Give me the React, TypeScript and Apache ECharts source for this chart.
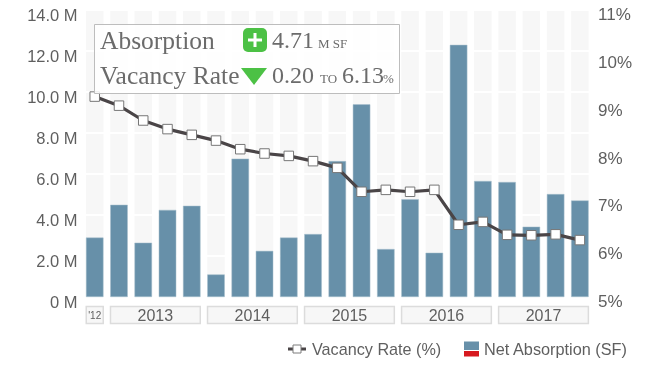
import React, { useEffect, useRef } from "react";
import * as echarts from "echarts";

const categories = ["Q4 12","Q1 13","Q2 13","Q3 13","Q4 13","Q1 14","Q2 14","Q3 14","Q4 14","Q1 15","Q2 15","Q3 15","Q4 15","Q1 16","Q2 16","Q3 16","Q4 16","Q1 17","Q2 17","Q3 17","Q4 17"];
const absorption = [2.9,4.5,2.65,4.25,4.45,1.1,6.75,2.25,2.9,3.07,6.63,9.4,2.34,4.77,2.16,12.3,5.66,5.61,3.43,5.02,4.71];
const vacancy = [9.19,9.0,8.69,8.51,8.39,8.27,8.09,8.0,7.95,7.84,7.7,7.2,7.24,7.2,7.24,6.51,6.57,6.3,6.29,6.31,6.19];
const leftTicks = ["0 M","2.0 M","4.0 M","6.0 M","8.0 M","10.0 M","12.0 M","14.0 M"];
const yearSpans: [number, number, string][] = [[0,0,"'12"],[1,4,"2013"],[5,8,"2014"],[9,12,"2015"],[13,16,"2016"],[17,20,"2017"]];
const backdrop = categories.map(() => 14);

const SANS = "'Liberation Sans', Arial, sans-serif";
const SERIF = "'Liberation Serif', serif";
const TXT = "#5f5f5f";
const SERIF_TXT = "#6b6b6b";

export default function App() {
  const ref = useRef<HTMLDivElement>(null);
  useEffect(() => {
    const chart = echarts.init(ref.current!, null, { renderer: "svg" });
    chart.setOption({
      animation: false,
      grid: { left: 82.6, right: 58, top: 10, bottom: 73, containLabel: false },
      xAxis: { type: "category", data: categories, axisLine: { show: false }, axisTick: { show: false }, axisLabel: { show: false } },
      yAxis: [
        {
          type: "value", min: 0, max: 14, interval: 2, z: 2,
          axisLine: { show: false }, axisTick: { show: false },
          splitLine: { show: true, lineStyle: { color: "#ffffff", width: 2 } },
          axisLabel: {
            margin: 5, fontFamily: SANS, fontSize: 16.5, color: TXT, verticalAlign: "top", padding: [-4, 0, 0, 0],
            formatter: (v: number) => leftTicks[v / 2],
          },
        },
        {
          type: "value", min: 5, max: 11, interval: 1, position: "right",
          axisLine: { show: false }, axisTick: { show: false }, splitLine: { show: false },
          axisLabel: {
            margin: 6, fontFamily: SANS, fontSize: 17, color: TXT, verticalAlign: "top", padding: [-4, 0, 0, 0],
            formatter: (v: number) => v + "%",
          },
        },
      ],
      series: [
        { type: "bar", data: backdrop, barWidth: 17.5, barGap: "-100%", z: 1, silent: true, itemStyle: { color: "#f7f7f7" } },
        { type: "bar", data: absorption, barWidth: 17.5, z: 3, itemStyle: { color: "#6790a9", borderColor: "#a9c0cf", borderWidth: 0.5 } },
        {
          type: "line", yAxisIndex: 1, data: vacancy, z: 4, symbol: "rect", symbolSize: 9.5,
          lineStyle: { color: "#4a4547", width: 3.2 },
          itemStyle: { color: "#ffffff", borderColor: "#767676", borderWidth: 1 },
        },
        {
          type: "custom", z: 2, silent: true, clip: false, data: yearSpans.map((s) => [s[0], s[1]]),
          renderItem: (params: any, api: any) => {
            const span = yearSpans[params.dataIndex];
            const a = api.coord([span[0], 0]);
            const b = api.coord([span[1], 0]);
            const x0 = a[0] - 8.5, x1 = b[0] + 8.5, y = a[1] + 9.5;
            return {
              type: "group",
              children: [
                { type: "rect", shape: { x: x0, y, width: x1 - x0, height: 17 }, style: { fill: "#f7f7f7", stroke: "#dcdcdc", lineWidth: 1.5 } },
                { type: "text", style: { x: (x0 + x1) / 2, y: y + 9, text: span[2], align: "center", verticalAlign: "middle", fontFamily: SANS, fontSize: span[2].length < 4 ? 10 : 16, fill: TXT } },
              ],
            };
          },
        },
      ],
      graphic: [
        { type: "rect", z: 10, shape: { x: 94.5, y: 24.5, width: 305, height: 69 }, style: { fill: "rgba(255,255,255,0.85)", stroke: "#bdbdbd", lineWidth: 1 } },
        { type: "text", z: 11, x: 100, y: 40, style: { text: "Absorption", fontFamily: SERIF, fontSize: 25.5, fill: SERIF_TXT, verticalAlign: "middle" } },
        { type: "text", z: 11, x: 100, y: 75, style: { text: "Vacancy Rate", fontFamily: SERIF, fontSize: 25.5, fill: SERIF_TXT, verticalAlign: "middle" } },
        { type: "rect", z: 11, shape: { x: 243, y: 28, width: 24, height: 24, r: 5 }, style: { fill: "#4cc145" } },
        { type: "rect", z: 12, shape: { x: 248, y: 38.5, width: 14, height: 3 }, style: { fill: "#fff" } },
        { type: "rect", z: 12, shape: { x: 253.5, y: 33, width: 3, height: 14 }, style: { fill: "#fff" } },
        { type: "polygon", z: 11, shape: { points: [[241, 68], [267, 68], [254, 85]] }, style: { fill: "#4cc145" } },
        { type: "text", z: 11, x: 272, y: 40, style: { text: "4.71", fontFamily: SERIF, fontSize: 24, fill: SERIF_TXT, verticalAlign: "middle" } },
        { type: "text", z: 11, x: 318, y: 43, style: { text: "M SF", fontFamily: SERIF, fontSize: 13, fill: SERIF_TXT, verticalAlign: "middle" } },
        { type: "text", z: 11, x: 272, y: 75, style: { text: "0.20", fontFamily: SERIF, fontSize: 24, fill: SERIF_TXT, verticalAlign: "middle" } },
        { type: "text", z: 11, x: 320, y: 78, style: { text: "TO", fontFamily: SERIF, fontSize: 13, fill: SERIF_TXT, verticalAlign: "middle" } },
        { type: "text", z: 11, x: 342, y: 75, style: { text: "6.13", fontFamily: SERIF, fontSize: 24, fill: SERIF_TXT, verticalAlign: "middle" } },
        { type: "text", z: 11, x: 383, y: 78, style: { text: "%", fontFamily: SERIF, fontSize: 13, fill: SERIF_TXT, verticalAlign: "middle" } },
        { type: "line", shape: { x1: 288, y1: 349, x2: 306, y2: 349 }, style: { stroke: "#4a4547", lineWidth: 3 } },
        { type: "rect", shape: { x: 293, y: 345, width: 8, height: 8 }, style: { fill: "#fff", stroke: "#7d7d7d", lineWidth: 1 } },
        { type: "text", x: 312, y: 349, style: { text: "Vacancy Rate (%)", fontFamily: SANS, fontSize: 16.2, fill: TXT, verticalAlign: "middle" } },
        { type: "rect", shape: { x: 464, y: 341.5, width: 15, height: 8.5 }, style: { fill: "#6790a9" } },
        { type: "rect", shape: { x: 464, y: 351, width: 15, height: 5.5 }, style: { fill: "#d7191f" } },
        { type: "text", x: 484, y: 349, style: { text: "Net Absorption (SF)", fontFamily: SANS, fontSize: 16.3, fill: TXT, verticalAlign: "middle" } },
      ],
    });
    return () => chart.dispose();
  }, []);
  return <div ref={ref} style={{ position: "fixed", left: 0, top: 0, width: 650, height: 370 }} />;
}
